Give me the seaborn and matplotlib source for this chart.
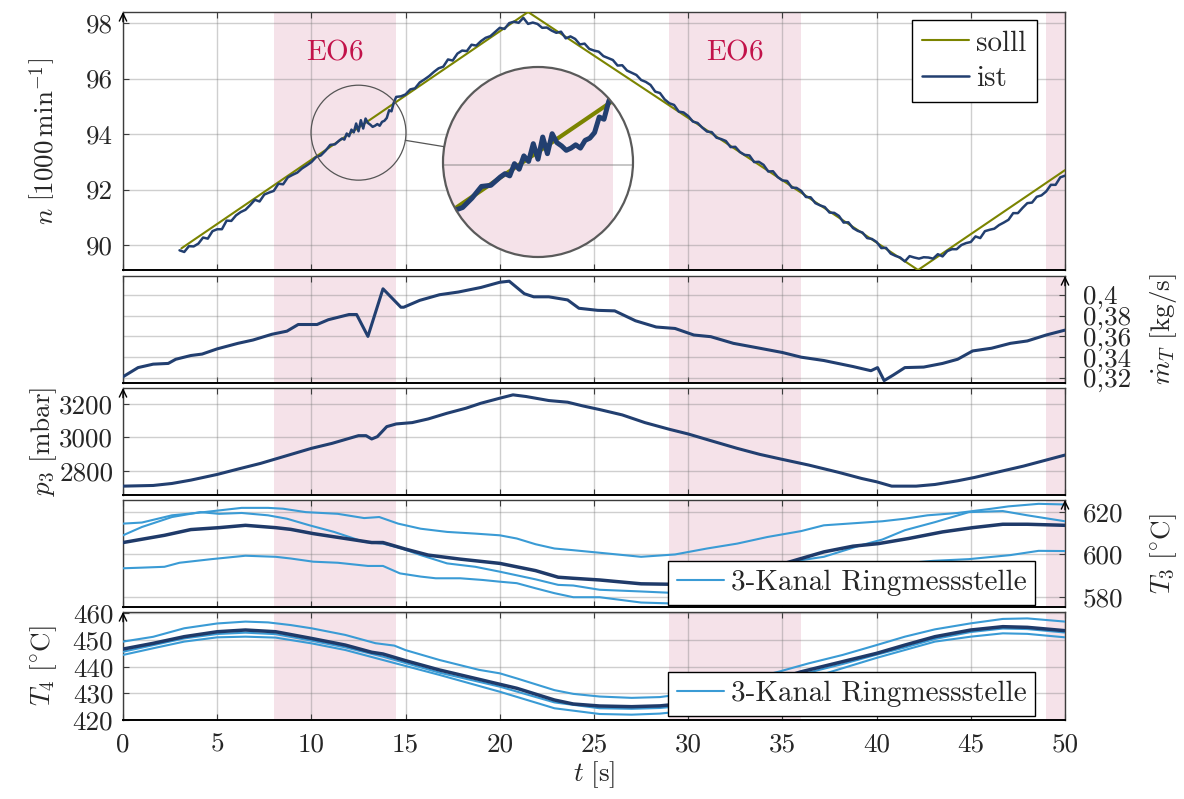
import numpy as np
import matplotlib
matplotlib.use("Agg")
import matplotlib.pyplot as plt
from matplotlib.patches import Circle, Ellipse
from matplotlib.lines import Line2D
import seaborn as sns

# ---------------- data ----------------
eo6_spans = [(8.0, 14.5), (29.0, 36.0), (49.0, 50.0)]
eo6_label_t = [11.25, 32.5]

# speed setpoint / actual  [1000 1/min]
soll_t = [3.1, 21.5, 42.2, 50.0]
soll_n = [89.88, 98.4, 89.1, 92.7]

# actual speed: 0.25 s samples, 0.125 s samples between 11.5 s and 14.5 s
ist_t = np.concatenate([np.arange(3.0, 11.4, 0.25),
                        np.arange(11.5, 14.4, 0.125),
                        np.arange(14.5, 50.001, 0.25)])
ist_n = [
    # 3.0 .. 11.25 s
    89.81, 89.75, 89.96, 89.95,
    90.05, 90.27, 90.23, 90.50,
    90.57, 90.57, 90.88, 90.87,
    91.07, 91.19, 91.27, 91.44,
    91.63, 91.57, 91.82, 91.89,
    91.95, 92.21, 92.19, 92.44,
    92.53, 92.61, 92.76, 92.87,
    92.99, 93.17, 93.23, 93.40,
    93.61, 93.63,
    # 11.5 .. 14.375 s
    93.78, 93.84, 93.80, 94.02, 93.92, 94.16, 94.06, 94.38,
    94.10, 94.50, 94.20, 94.56, 94.40, 94.34, 94.26, 94.30,
    94.36, 94.30, 94.44, 94.48, 94.58, 94.86, 94.82, 95.14,
    # 14.5 .. 50.0 s
    95.34, 95.36,
    95.43, 95.61, 95.65, 95.86,
    95.97, 96.09, 96.24, 96.37,
    96.43, 96.69, 96.65, 96.90,
    97.01, 96.99, 97.22, 97.19,
    97.35, 97.47, 97.53, 97.68,
    97.83, 97.79, 98.00, 98.05,
    98.01, 98.19, 97.97, 98.02,
    97.97, 97.83, 97.84, 97.73,
    97.65, 97.69, 97.45, 97.52,
    97.43, 97.23, 97.26, 97.07,
    97.01, 96.97, 96.81, 96.74,
    96.67, 96.47, 96.48, 96.29,
    96.21, 96.13, 95.95, 95.88,
    95.77, 95.53, 95.48, 95.25,
    95.11, 95.05, 94.81, 94.78,
    94.65, 94.45, 94.40, 94.23,
    94.09, 94.07, 93.87, 93.82,
    93.75, 93.53, 93.54, 93.35,
    93.25, 93.23, 92.99, 93.00,
    92.89, 92.65, 92.66, 92.45,
    92.33, 92.31, 92.07, 92.06,
    91.95, 91.73, 91.72, 91.51,
    91.43, 91.37, 91.17, 91.16,
    91.05, 90.81, 90.82, 90.61,
    90.51, 90.45, 90.25, 90.22,
    90.11, 89.89, 89.90, 89.69,
    89.61, 89.55, 89.41, 89.60,
    89.55, 89.51, 89.56, 89.55,
    89.51, 89.67, 89.59, 89.78,
    89.85, 89.85, 90.00, 90.07,
    90.11, 90.31, 90.25, 90.50,
    90.55, 90.59, 90.72, 90.81,
    90.91, 91.15, 91.15, 91.34,
    91.51, 91.53, 91.74, 91.79,
    91.93, 92.17, 92.17, 92.44,
    92.50,
]

# turbine mass flow [kg/s]
mT_t = [0, 0.8, 1.6, 2.4, 2.8, 3.6, 4.2, 5.0, 6.1, 6.9, 7.9, 8.7, 9.3, 10.3, 10.9,
        12.0, 12.4, 13.0, 13.8, 14.75, 14.9, 15.75, 16.8, 17.8, 19.0, 20.0, 20.5,
        21.3, 21.8, 22.6, 23.6, 24.2, 25.2, 26.1, 27.2, 28.3, 29.3, 30.3, 31.2,
        32.4, 33.8, 35.0, 36.0, 37.2, 38.75, 39.7, 40.05, 40.4, 40.9, 41.5, 42.5,
        43.5, 44.3, 45.1, 46.1, 47.1, 48.0, 49.0, 50.0]
mT = [0.3212, 0.330, 0.3333, 0.334, 0.338, 0.3416, 0.343, 0.348, 0.3533, 0.3565,
      0.362, 0.365, 0.3714, 0.3714, 0.376, 0.381, 0.381, 0.360, 0.4057, 0.388,
      0.388, 0.3946, 0.400, 0.4026, 0.407, 0.412, 0.413, 0.401, 0.398, 0.398,
      0.395, 0.387, 0.385, 0.3845, 0.375, 0.369, 0.3676, 0.3613, 0.3597, 0.3533,
      0.3486, 0.3445, 0.340, 0.3368, 0.331, 0.327, 0.330, 0.3175, 0.323, 0.330,
      0.3305, 0.334, 0.338, 0.346, 0.3486, 0.3533, 0.3556, 0.3613, 0.366]

# p3 [mbar]
p3_t = [0, 1.6, 2.6, 3.6, 5.0, 6.1, 7.3, 7.9, 9.1, 10.0, 11.1, 12.5, 12.9, 13.2,
        13.5, 14.0, 14.5, 15.35, 16.2, 17.2, 18.2, 19.0, 20.0, 20.7, 21.4, 22.6,
        23.6, 24.4, 25.3, 26.5, 27.7, 29.0, 30.0, 31.2, 32.6, 33.8, 35.0, 36.4,
        38.0, 39.2, 40.0, 40.8, 42.1, 43.1, 44.3, 45.2, 46.5, 47.8, 49.0, 50.0]
p3 = [2708, 2712, 2724, 2744, 2778, 2810, 2844, 2864, 2904, 2934, 2964, 3010, 3010,
      2990, 3004, 3064, 3080, 3088, 3110, 3144, 3174, 3204, 3234, 3254, 3244, 3220,
      3210, 3188, 3166, 3134, 3088, 3048, 3020, 2980, 2934, 2898, 2868, 2834, 2790,
      2754, 2734, 2708, 2708, 2718, 2740, 2760, 2794, 2828, 2864, 2894]

# T3 [°C]: three ring channels and their mean
T3a_t = [0, 1.0, 2.6, 4.0, 5.1, 6.3, 7.7, 8.5, 9.7, 11.4, 12.8, 13.6, 14.6, 15.8,
         17.2, 18.7, 20.0, 20.9, 21.9, 22.9, 23.9, 25.3, 27.5, 29.3, 31.0, 32.6,
         34.2, 36.0, 37.2, 39.0, 40.3, 41.5, 42.7, 44.3, 46.1, 47.0, 48.6, 50.0]
T3a = [614.5, 615.0, 618.4, 619.6, 620.7, 621.9, 621.9, 621.5, 619.9, 619.1, 617.1,
       617.6, 614.5, 612.1, 610.6, 609.8, 609.0, 607.5, 604.8, 602.8, 602.0, 600.8,
       598.9, 600.0, 602.8, 605.1, 608.2, 611.0, 613.7, 614.8, 615.6, 616.8, 618.4,
       619.5, 621.5, 622.6, 623.8, 623.5]
T3b_t = [0, 1.0, 2.6, 4.1, 5.1, 6.3, 7.7, 8.7, 9.9, 11.2, 12.8, 13.8, 14.8, 15.8,
         17.2, 18.7, 20.0, 21.9, 23.1, 23.9, 25.3, 27.5, 29.0, 31.0, 33.0, 35.0,
         37.2, 39.2, 40.3, 41.5, 43.1, 44.9, 46.7, 48.0, 50.0]
T3b = [609.0, 612.9, 617.6, 619.9, 619.1, 619.5, 618.4, 616.8, 613.7, 610.6, 605.9,
       605.1, 602.8, 599.7, 595.8, 594.2, 591.9, 588.3, 585.7, 585.4, 583.4, 582.6,
       582.0, 585.0, 590.0, 596.0, 598.9, 604.4, 607.0, 611.4, 615.2, 619.9, 620.4,
       618.4, 615.6]
T3c_t = [0, 1.0, 2.2, 3.0, 4.7, 6.5, 8.1, 8.9, 10.1, 11.4, 13.0, 13.8, 14.7, 15.8,
         16.6, 17.9, 19.1, 20.0, 20.9, 21.9, 22.9, 23.9, 25.3, 27.5, 29.0, 31.0,
         33.0, 35.0, 37.0, 39.0, 41.0, 43.0, 44.9, 47.1, 48.6, 50.0]
T3c = [593.5, 593.8, 594.2, 596.1, 597.8, 599.4, 598.9, 598.1, 596.6, 596.1, 594.6,
       594.6, 591.1, 589.6, 588.8, 588.8, 588.0, 587.2, 586.5, 584.1, 581.8, 579.9,
       579.9, 577.4, 577.0, 578.0, 581.0, 585.0, 590.0, 593.0, 595.5, 597.0, 597.8,
       599.7, 601.7, 601.6]
T3m_t = [0, 2.2, 3.6, 5.1, 6.5, 8.1, 8.9, 10.1, 11.8, 13.2, 13.8, 15.0, 16.2, 17.9,
         20.0, 21.9, 23.1, 23.9, 25.3, 27.5, 29.0, 30.5, 32.0, 33.5, 35.0, 36.0,
         37.2, 38.75, 40.1, 41.7, 43.5, 45.1, 46.7, 48.0, 50.0]
T3m = [605.6, 609.0, 611.7, 612.6, 613.7, 612.6, 611.8, 609.8, 607.5, 605.6, 605.6,
       602.5, 599.7, 597.8, 595.8, 592.4, 589.3, 588.8, 588.0, 586.2, 586.0, 587.0,
       589.0, 592.0, 595.5, 598.1, 601.2, 603.9, 605.1, 607.5, 610.6, 612.6, 614.2,
       614.2, 613.7]

# T4 [°C]: three ring channels and their mean
T4a_t = [0, 1.6, 3.25, 5.0, 6.5, 7.7, 8.9, 10.0, 11.8, 13.4, 14.4, 15.0, 16.8, 18.9,
         20.0, 20.9, 22.9, 23.9, 25.3, 27.0, 28.5, 30.0, 31.5, 33.0, 34.8, 36.4,
         38.2, 40.0, 41.5, 43.1, 45.0, 46.7, 48.0, 50.0]
T4a = [449.4, 451.2, 454.4, 456.2, 456.9, 456.6, 455.6, 454.4, 451.9, 448.8, 447.9,
       446.2, 442.5, 438.8, 437.5, 435.6, 431.2, 429.8, 428.8, 428.3, 428.6, 430.0,
       432.3, 435.0, 438.1, 441.25, 444.4, 448.1, 451.25, 454.0, 456.25, 457.9,
       458.1, 456.9]
T4b_t = [0, 3.25, 5.0, 6.5, 8.1, 10.0, 11.8, 13.8, 16.8, 20.0, 22.9, 25.3, 27.0,
         28.5, 30.0, 31.5, 33.0, 34.5, 36.0, 38.2, 40.0, 41.5, 43.1, 45.0, 46.7,
         48.0, 50.0]
T4b = [445.6, 450.6, 452.25, 452.75, 452.2, 449.75, 447.25, 443.75, 437.75, 432.5,
       426.6, 424.4, 424.2, 424.5, 425.5, 427.6, 430.6, 433.8, 437.1, 441.0, 444.5,
       447.2, 450.4, 453.0, 454.3, 454.1, 452.8]
T4c_t = [0, 1.6, 3.25, 5.0, 6.5, 8.1, 10.0, 11.8, 13.8, 15.0, 16.8, 20.0, 22.9, 25.3,
         27.0, 28.5, 30.0, 31.5, 33.0, 34.5, 36.4, 38.0, 40.0, 43.1, 45.0, 46.7,
         48.0, 50.0]
T4c = [444.4, 446.9, 449.4, 451.0, 451.25, 450.9, 448.75, 446.25, 442.5, 440.25,
       436.9, 430.6, 424.4, 422.25, 422.0, 422.4, 423.5, 425.5, 428.5, 431.5, 435.5,
       439.0, 443.3, 449.4, 451.25, 452.5, 452.3, 451.0]
T4m_t = [0, 1.6, 3.25, 5.0, 6.5, 8.1, 10.0, 11.8, 13.2, 13.8, 15.0, 16.8, 18.9, 20.0,
         20.9, 22.9, 23.9, 25.3, 27.0, 28.5, 30.0, 31.5, 33.0, 34.5, 36.0, 38.2,
         40.0, 41.5, 43.1, 45.0, 46.7, 48.0, 50.0]
T4m = [446.6, 448.75, 451.25, 453.1, 453.75, 453.1, 450.6, 448.1, 445.4, 444.75,
       442.25, 438.75, 435.25, 433.4, 431.9, 427.5, 426.0, 425.25, 425.0, 425.3,
       426.3, 428.5, 431.5, 434.8, 438.1, 441.9, 445.0, 448.1, 451.25, 453.75, 455.0,
       454.75, 453.5]

# axis ticks
x_ticks = list(range(0, 51, 5))
n_ticks = [90, 92, 94, 96, 98]
mT_ticks = [0.32, 0.34, 0.36, 0.38, 0.40]
mT_ticklabels = ["0,32", "0,34", "0,36", "0,38", "0,4"]
p3_ticks = [2800, 3000, 3200]
T3_ticks = [580, 600, 620]
T4_ticks = [420, 430, 440, 450, 460]

# ---------------- style ----------------
sns.set_theme(style="whitegrid")
plt.rcParams["font.family"] = ["cmr10", "DejaVu Serif"]
plt.rcParams["mathtext.fontset"] = "cm"
plt.rcParams["axes.unicode_minus"] = False

PINK = "#f5e2e9"
OLIVE = "#7b8400"
IST = "#223f70"
LIGHT = "#3a9bd5"
DARK = "#1f3a69"
RED = "#c2124a"
FRAME = "#3c3c3c"
FS = 19.5
LFS = 21

W, H = 1184, 799
fig = plt.figure(figsize=(W / 100, H / 100), dpi=100)


def box(l, t, r, b):
    return [l / W, 1 - b / H, (r - l) / W, (b - t) / H]


ax_n = fig.add_axes(box(123, 12, 1065, 270))
ax_m = fig.add_axes(box(123, 276, 1065, 383))
ax_p = fig.add_axes(box(123, 388, 1065, 495))
ax_t3 = fig.add_axes(box(123, 500, 1065, 607))
ax_t4 = fig.add_axes(box(123, 612, 1065, 720))


def style(ax, side, ylim, yticks, yticklabels=None, xlabels=False):
    ax.set_facecolor("white")
    ax.set_xlim(0, 50)
    ax.set_ylim(*ylim)
    ax.set_xticks(x_ticks)
    ax.set_yticks(yticks)
    if yticklabels is None:
        yticklabels = [str(v) for v in yticks]
    ax.set_yticklabels(yticklabels)
    for a, b in eo6_spans:
        ax.axvspan(a, b, color=PINK, lw=0, zorder=0)
    ax.grid(True, color="#7a7a7a", alpha=0.36, lw=1.0)
    ax.set_axisbelow(True)
    for s in ax.spines.values():
        s.set_color(FRAME)
        s.set_linewidth(1.0)
    ax.spines["bottom"].set_color("black")
    ax.spines["bottom"].set_linewidth(1.4)
    ax.tick_params(axis="both", direction="in", length=4, width=0.8, color=FRAME,
                   labelsize=FS, top=True, bottom=True)
    ax.tick_params(axis="x", labelbottom=xlabels, pad=9)
    if side == "left":
        ax.tick_params(axis="y", left=True, right=False, labelleft=True,
                       labelright=False, pad=7)
        xa = 0.0
    else:
        ax.tick_params(axis="y", left=False, right=True, labelleft=False,
                       labelright=True, pad=13)
        xa = 1.0
    ax.annotate("", xy=(xa, 1.0), xycoords="axes fraction",
                xytext=(0, -7), textcoords="offset points",
                arrowprops=dict(arrowstyle="->,head_length=0.45,head_width=0.22",
                                lw=1.0, color="black", shrinkA=0, shrinkB=0),
                annotation_clip=False, zorder=6)
    ax.set_xlabel("")
    ax.set_ylabel("")


def line(ax, t, v, color, lw, z=3):
    sns.lineplot(x=t, y=v, ax=ax, color=color, linewidth=lw, estimator=None,
                 sort=False, zorder=z)


LEFT_LAB = -0.068
RIGHT_LAB = 1.088

# ---- speed ----
style(ax_n, "left", (89.1, 98.4), n_ticks)
line(ax_n, soll_t, soll_n, OLIVE, 1.5, 3)
line(ax_n, ist_t, ist_n, IST, 1.8, 4)
for tx in eo6_label_t:
    ax_n.text(tx, 96.95, r"$\mathrm{EO6}$", color=RED, fontsize=21,
              ha="center", va="center")
leg = ax_n.legend(handles=[Line2D([], [], color=OLIVE, lw=1.5),
                           Line2D([], [], color=IST, lw=1.8)],
                  labels=["solll", "ist"], loc="upper right",
                  bbox_to_anchor=(0.9703, 0.969), borderaxespad=0, fontsize=LFS,
                  frameon=True, fancybox=False, edgecolor="black", framealpha=1,
                  handlelength=1.6, handletextpad=0.25, borderpad=0.35,
                  labelspacing=0.3)
leg.get_frame().set_linewidth(1.0)
leg.set_zorder(10)
ax_n.set_ylabel(r"$n\ \left[1000\,\mathrm{min}^{-1}\right]$", fontsize=FS)
ax_n.yaxis.set_label_coords(LEFT_LAB, 0.5)

# ---- mass flow ----
style(ax_m, "right", (0.3152, 0.418), mT_ticks, mT_ticklabels)
line(ax_m, mT_t, mT, IST, 2.2)
ax_m.yaxis.set_label_position("right")
ax_m.set_ylabel(r"$\dot{m}_T\ [\mathrm{kg/s}]$", fontsize=FS, rotation=90)
ax_m.yaxis.set_label_coords(RIGHT_LAB, 0.5)

# ---- p3 ----
style(ax_p, "left", (2655, 3295), p3_ticks)
line(ax_p, p3_t, p3, IST, 2.2)
ax_p.set_ylabel(r"$p_3\ [\mathrm{mbar}]$", fontsize=FS)
ax_p.yaxis.set_label_coords(LEFT_LAB, 0.5)

# ---- T3 ----
style(ax_t3, "right", (575.3, 625.6), T3_ticks)
for tt, vv in [(T3a_t, T3a), (T3b_t, T3b), (T3c_t, T3c)]:
    line(ax_t3, tt, vv, LIGHT, 1.5)
line(ax_t3, T3m_t, T3m, DARK, 2.5, 4)
ax_t3.yaxis.set_label_position("right")
ax_t3.set_ylabel(r"$T_3\ [^{\circ}\mathrm{C}]$", fontsize=FS, rotation=90)
ax_t3.yaxis.set_label_coords(RIGHT_LAB, 0.5)

# ---- T4 ----
style(ax_t4, "left", (420, 460.5), T4_ticks, xlabels=True)
for tt, vv in [(T4a_t, T4a), (T4b_t, T4b), (T4c_t, T4c)]:
    line(ax_t4, tt, vv, LIGHT, 1.5)
line(ax_t4, T4m_t, T4m, DARK, 2.5, 4)
ax_t4.set_ylabel(r"$T_4\ [^{\circ}\mathrm{C}]$", fontsize=FS)
ax_t4.yaxis.set_label_coords(LEFT_LAB, 0.5)

for ax, yb in [(ax_t3, 0.019), (ax_t4, 0.037)]:
    lg = ax.legend(handles=[Line2D([], [], color=LIGHT, lw=1.5)],
                   labels=["3-Kanal Ringmessstelle"], loc="lower right",
                   bbox_to_anchor=(0.9685, yb), borderaxespad=0, fontsize=LFS,
                   frameon=True, fancybox=False, edgecolor="black", framealpha=1,
                   handlelength=1.6, handletextpad=0.25, borderpad=0.3)
    lg.get_frame().set_linewidth(1.0)
    lg.set_zorder(10)

fig.text(594 / W, 1 - 775 / H, r"$t\ [\mathrm{s}]$", ha="center", va="center",
         fontsize=FS)

# ---- magnifier on the speed trace ----
zc_t, zc_n = 12.5, 94.05
zr_t = 2.52
p0 = ax_n.transData.transform((0.0, 90.0))
p1 = ax_n.transData.transform((1.0, 91.0))
sx, sy = p1[0] - p0[0], p1[1] - p0[1]
zr_n = zr_t * sx / sy
ax_n.add_patch(Ellipse((zc_t, zc_n), 2 * zr_t, 2 * zr_n, fill=False,
                       ec="#555555", lw=0.9, zorder=5))

axin = fig.add_axes(box(443, 67, 633, 257))
axin.set_xlim(zc_t - zr_t, zc_t + zr_t)
axin.set_ylim(zc_n - zr_n, zc_n + zr_n)
axin.axis("off")
clip = Circle((0.5, 0.5), 0.5, transform=axin.transAxes)
axin.add_patch(Circle((0.5, 0.5), 0.5, transform=axin.transAxes, fc="white",
                      ec="none", zorder=0))
sp = axin.axvspan(eo6_spans[0][0], eo6_spans[0][1], color=PINK, lw=0, zorder=1)
sp.set_clip_path(clip)
gl = axin.axhline(94, color="#7a7a7a", alpha=0.5, lw=1.2, zorder=1.5)
gl.set_clip_path(clip)
l1, = axin.plot(soll_t, soll_n, color=OLIVE, lw=3.0, zorder=2)
l1.set_clip_path(clip)
l2, = axin.plot(ist_t, ist_n, color=IST, lw=3.6, zorder=3)
l2.set_clip_path(clip)
edge = Circle((0.5, 0.5), 0.5, transform=axin.transAxes, fc="none",
              ec="#5a5a5a", lw=1.6, zorder=4)
edge.set_clip_on(False)
axin.add_patch(edge)

c_small = ax_n.transData.transform((zc_t, zc_n))
c_big = axin.transAxes.transform((0.5, 0.5))
r_small = zr_t * sx
r_big = axin.transAxes.transform((1.0, 0.5))[0] - c_big[0]
d = c_big - c_small
d = d / np.hypot(*d)
pa = fig.transFigure.inverted().transform(c_small + d * r_small)
pb = fig.transFigure.inverted().transform(c_big - d * r_big)
fig.add_artist(Line2D([pa[0], pb[0]], [pa[1], pb[1]], color="#555555", lw=0.9))

fig.savefig("out.png", dpi=100, facecolor="white")
